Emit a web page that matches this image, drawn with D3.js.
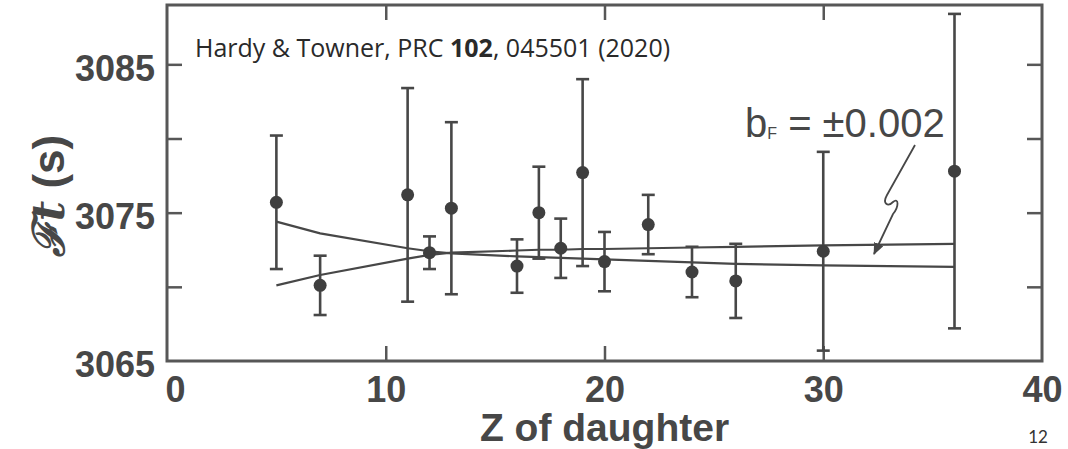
<!DOCTYPE html>
<html>
<head>
<meta charset="utf-8">
<script src="https://cdn.jsdelivr.net/npm/d3@7"></script>
<style>
  html, body { margin: 0; padding: 0; background: #fff; }
  svg { display: block; }
</style>
</head>
<body>
<div class="graph"></div>
<script>
// superallowed decays, Z of daughter vs corrected Ft
var zDaughter = [5, 7, 11, 12, 13, 16, 17, 18, 19, 20, 22, 24, 26, 30, 36];
var ftValues = [3075.7, 3070.1, 3076.2, 3072.3, 3075.3, 3071.4, 3075.0, 3072.6, 3077.7, 3071.7, 3074.2, 3071.0, 3070.4, 3072.4, 3077.8];
var ftErrors = [4.5, 2.0, 7.2, 1.1, 5.8, 1.8, 3.1, 2.0, 6.3, 2.0, 2.0, 1.7, 2.5, 6.7, 10.6];

// b_F = +0.002 / -0.002 curves
var curveA = [3074.4, 3073.6, 3072.6, 3072.4, 3072.25, 3072.05, 3072.0, 3071.95, 3071.9, 3071.85, 3071.75, 3071.65, 3071.55, 3071.45, 3071.35];
var curveB = [3070.1, 3070.8, 3071.9, 3072.15, 3072.3, 3072.45, 3072.5, 3072.5, 3072.55, 3072.55, 3072.6, 3072.65, 3072.7, 3072.8, 3072.9];

var xTicks = [0, 10, 20, 30, 40];
var yTicks = [3065, 3070, 3075, 3080, 3085];
var yLabels = [3065, 3075, 3085];

var width = 1068, height = 449;
var ink = '#474747';
var frame = '#575757';

var svg = d3.select('.graph')
    .append('svg')
    .attr('width', width)
    .attr('height', height);

var x = d3.scaleLinear().domain([0, 40]).range([167, 1042]);
var y = d3.scaleLinear().domain([3065, 3089]).range([361, 5]);

// frame
svg.append('rect')
    .attr('x', x(0))
    .attr('y', y(3089))
    .attr('width', x(40) - x(0))
    .attr('height', y(3065) - y(3089))
    .attr('fill', 'none')
    .attr('stroke', frame)
    .attr('stroke-width', 3);

// bottom axis with labels
var bottomAxis = svg.append('g')
    .attr('transform', 'translate(0,' + y(3065) + ')')
    .call(d3.axisBottom(x).tickValues(xTicks).tickSize(-15).tickPadding(15).tickFormat(d3.format('d')));

bottomAxis.select('.domain').remove();
bottomAxis.selectAll('line')
    .attr('stroke', frame)
    .attr('stroke-width', 2.5)
    .filter(function(d) { return d === 0 || d === 40; })
    .remove();
bottomAxis.selectAll('text')
    .attr('font-family', '"Liberation Sans", Arial, sans-serif')
    .attr('font-weight', 'bold')
    .attr('font-size', 36)
    .attr('fill', ink)
    .attr('dx', function(d) { return d === 0 ? 8 : 0; });

// top ticks
var topAxis = svg.append('g')
    .attr('transform', 'translate(0,' + y(3089) + ')')
    .call(d3.axisTop(x).tickValues([10, 20, 30]).tickSize(-15).tickFormat(''));
topAxis.select('.domain').remove();
topAxis.selectAll('line').attr('stroke', frame).attr('stroke-width', 2.5);

// left axis
var leftAxis = svg.append('g')
    .attr('transform', 'translate(' + x(0) + ',0)')
    .call(d3.axisLeft(y).tickValues(yTicks).tickSize(-15).tickPadding(12)
        .tickFormat(function(d) { return yLabels.indexOf(d) !== -1 ? d : ''; }));
leftAxis.select('.domain').remove();
leftAxis.selectAll('line')
    .attr('stroke', frame)
    .attr('stroke-width', 2.5)
    .filter(function(d) { return d === 3065; })
    .remove();
leftAxis.selectAll('text')
    .attr('font-family', '"Liberation Sans", Arial, sans-serif')
    .attr('font-weight', 'bold')
    .attr('font-size', 36)
    .attr('fill', ink)
    .attr('dy', '0.44em');

// right ticks
var rightAxis = svg.append('g')
    .attr('transform', 'translate(' + x(40) + ',0)')
    .call(d3.axisRight(y).tickValues([3070, 3075, 3080, 3085]).tickSize(-15).tickFormat(''));
rightAxis.select('.domain').remove();
rightAxis.selectAll('line').attr('stroke', frame).attr('stroke-width', 2.5);

// curves
var line = d3.line()
    .x(function(d) { return x(d[0]); })
    .y(function(d) { return y(d[1]); });

[curveA, curveB].forEach(function(c) {
    svg.append('path')
        .datum(zDaughter.map(function(z, i) { return [z, c[i]]; }))
        .attr('d', line)
        .attr('fill', 'none')
        .attr('stroke', ink)
        .attr('stroke-width', 2.2);
});

// error bars
var points = zDaughter.map(function(z, i) {
    return { z: z, v: ftValues[i], e: ftErrors[i] };
});

var bars = svg.selectAll('.bar')
    .data(points)
    .enter()
    .append('g')
    .attr('class', 'bar')
    .attr('stroke', ink)
    .attr('stroke-width', 2.6);

bars.append('line')
    .attr('x1', function(d) { return x(d.z); })
    .attr('x2', function(d) { return x(d.z); })
    .attr('y1', function(d) { return y(d.v - d.e); })
    .attr('y2', function(d) { return y(d.v + d.e); });

bars.append('line')
    .attr('x1', function(d) { return x(d.z) - 6.5; })
    .attr('x2', function(d) { return x(d.z) + 6.5; })
    .attr('y1', function(d) { return y(d.v + d.e); })
    .attr('y2', function(d) { return y(d.v + d.e); });

bars.append('line')
    .attr('x1', function(d) { return x(d.z) - 6.5; })
    .attr('x2', function(d) { return x(d.z) + 6.5; })
    .attr('y1', function(d) { return y(d.v - d.e); })
    .attr('y2', function(d) { return y(d.v - d.e); });

svg.selectAll('.dot')
    .data(points)
    .enter()
    .append('circle')
    .attr('class', 'dot')
    .attr('cx', function(d) { return x(d.z); })
    .attr('cy', function(d) { return y(d.v); })
    .attr('r', 6.5)
    .attr('fill', '#3f3f3f');

// reference
var ref = svg.append('text')
    .attr('x', 195)
    .attr('y', 57)
    .attr('font-family', '"Open Sans", Lato, sans-serif')
    .attr('font-size', 25)
    .attr('fill', '#2a2a2a');
ref.append('tspan').text('Hardy & Towner, PRC ');
ref.append('tspan').attr('font-weight', 'bold').text('102');
ref.append('tspan').text(', 045501 (2020)');

// b_F annotation
var ann = svg.append('text')
    .attr('x', 745)
    .attr('y', 137)
    .attr('font-family', '"Liberation Sans", Arial, sans-serif')
    .attr('font-size', 40)
    .attr('fill', ink);
ann.append('tspan').text('b');
ann.append('tspan').attr('font-size', 16).attr('dy', 2).text('F');
ann.append('tspan').attr('dy', -2).text(' = \u00b10.002');

var defs = svg.append('defs');
defs.append('marker')
    .attr('id', 'arrow')
    .attr('orient', 'auto')
    .attr('markerUnits', 'userSpaceOnUse')
    .attr('markerWidth', 12)
    .attr('markerHeight', 10)
    .attr('refX', 11)
    .attr('refY', 5)
    .append('path')
    .attr('d', 'M0,0 L12,5 L0,10 Z')
    .attr('fill', ink);

svg.append('path')
    .attr('d', 'M915,145 L887,195 C882,204 888,207 893,202 C899,197 899,207 893,214 L874,254')
    .attr('fill', 'none')
    .attr('stroke', ink)
    .attr('stroke-width', 1.8)
    .attr('marker-end', 'url(#arrow)');

// axis titles
svg.append('text')
    .attr('x', x(20))
    .attr('y', 441)
    .attr('text-anchor', 'middle')
    .attr('font-family', '"Liberation Sans", Arial, sans-serif')
    .attr('font-weight', 'bold')
    .attr('font-size', 39)
    .attr('fill', ink)
    .text('Z of daughter');

var yTitle = svg.append('text')
    .attr('transform', 'translate(64,196) rotate(-90)')
    .attr('text-anchor', 'middle')
    .attr('font-family', '"Liberation Sans", Arial, sans-serif')
    .attr('font-weight', 'bold')
    .attr('font-size', 44)
    .attr('fill', ink);
yTitle.append('tspan').attr('font-family', '"DejaVu Serif", serif').attr('font-style', 'italic').text('\u2131');
yTitle.append('tspan').attr('font-style', 'italic').attr('font-family', '"DejaVu Serif", serif').text('t');
yTitle.append('tspan').text(' (s)');

// slide number at the bottom edge
svg.append('text')
    .attr('x', 1038)
    .attr('y', 443)
    .attr('text-anchor', 'middle')
    .attr('font-family', 'Lato, sans-serif')
    .attr('font-size', 17)
    .attr('fill', '#333')
    .text('12');
</script>
</body>
</html>
